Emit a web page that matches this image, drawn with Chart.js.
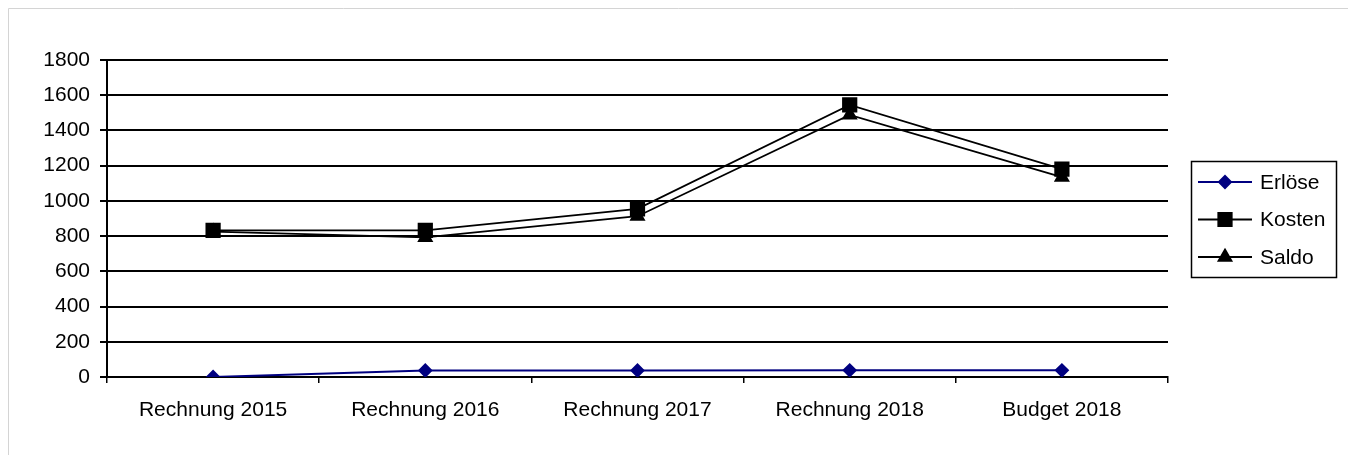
<!DOCTYPE html>
<html>
<head>
<meta charset="utf-8">
<script src="https://cdn.jsdelivr.net/npm/chart.js@4/dist/chart.umd.min.js"></script>
<style>
  html, body { margin: 0; padding: 0; background: #fff; }
  #wrap { width: 1348px; height: 455px; position: relative; }
</style>
</head>
<body>
<div id="wrap"><canvas id="chart" width="1348" height="455"></canvas></div>
<script>
const categories = ["Rechnung 2015", "Rechnung 2016", "Rechnung 2017", "Rechnung 2018", "Budget 2018"];
const erloese = [0, 37, 37, 38, 38];
const kosten = [833, 833, 955, 1545, 1180];
const saldo = [825, 793, 913, 1488, 1135];
const yTicks = [0, 200, 400, 600, 800, 1000, 1200, 1400, 1600, 1800];

const FONT = "'Liberation Sans', Arial, sans-serif";

// light frame around the whole chart object
const framePlugin = {
    id: "frame",
    beforeDraw(chart) {
        const c = chart.ctx;
        c.save();
        c.fillStyle = "#fff";
        c.fillRect(0, 0, chart.width, chart.height);
        c.strokeStyle = "#d4d4d4";
        c.lineWidth = 1;
        c.beginPath();
        c.moveTo(8.5, chart.height);
        c.lineTo(8.5, 8.5);
        c.lineTo(chart.width, 8.5);
        c.stroke();
        c.restore();
    }
};

// Excel-style boxed legend on the right
const boxLegend = {
    id: "boxLegend",
    afterDraw(chart) {
        const c = chart.ctx;
        const x0 = 1191, y0 = 161, w = 145, h = 116;
        c.save();
        c.strokeStyle = "#000";
        c.lineWidth = 1.5;
        c.strokeRect(x0 + 0.5, y0 + 0.5, w, h);
        c.font = "21px " + FONT;
        c.textBaseline = "middle";
        chart.data.datasets.forEach((ds, i) => {
            const y = y0 + 21 + i * 37.5;
            c.strokeStyle = ds.borderColor;
            c.lineWidth = ds.borderWidth;
            c.beginPath();
            c.moveTo(x0 + 7, y);
            c.lineTo(x0 + 61, y);
            c.stroke();
            Chart.helpers.drawPoint(c, {
                pointStyle: ds.pointStyle,
                radius: ds.pointRadius,
                borderWidth: 1
            }, x0 + 34, y);
            c.fillStyle = ds.pointBackgroundColor;
            c.fill();
            c.fillStyle = "#000";
            c.fillText(ds.label, x0 + 69, y + 1);
        });
        c.restore();
    }
};

function series(label, data, color, style, radius, width) {
    return {
        label, data,
        borderColor: color,
        backgroundColor: color,
        pointBackgroundColor: color,
        pointBorderColor: color,
        pointStyle: style,
        pointRadius: radius,
        pointHoverRadius: radius,
        borderWidth: width,
        tension: 0
    };
}

new Chart(document.getElementById("chart"), {
    type: "line",
    data: {
        labels: categories,
        datasets: [
            series("Erlöse", erloese, "#000080", "rectRot", 6, 2),
            series("Kosten", kosten, "#000000", "rect", 9.5, 1.8),
            series("Saldo", saldo, "#000000", "triangle", 7.5, 1.8)
        ]
    },
    options: {
        responsive: false,
        animation: false,
        layout: { padding: { left: 0, top: 60, right: 180, bottom: 0 } },
        plugins: { legend: { display: false }, tooltip: { enabled: false } },
        scales: {
            x: {
                offset: true,
                grid: { offset: true, drawOnChartArea: false, color: "#000", tickLength: 6, lineWidth: 1.5 },
                border: { color: "#000", width: 2 },
                ticks: { color: "#000", font: { family: FONT, size: 21 }, padding: 15, maxRotation: 0 },
                afterFit(s) { s.height = 78; }
            },
            y: {
                min: 0, max: 1800,
                afterBuildTicks(s) { s.ticks = yTicks.map(v => ({ value: v })); },
                grid: { color: "#000", lineWidth: 2, tickLength: 7 },
                border: { color: "#000", width: 2 },
                ticks: { color: "#000", font: { family: FONT, size: 21 }, padding: 10, callback: v => String(v) },
                afterFit(s) { s.width = 107; }
            }
        }
    },
    plugins: [framePlugin, boxLegend]
});
</script>
</body>
</html>
